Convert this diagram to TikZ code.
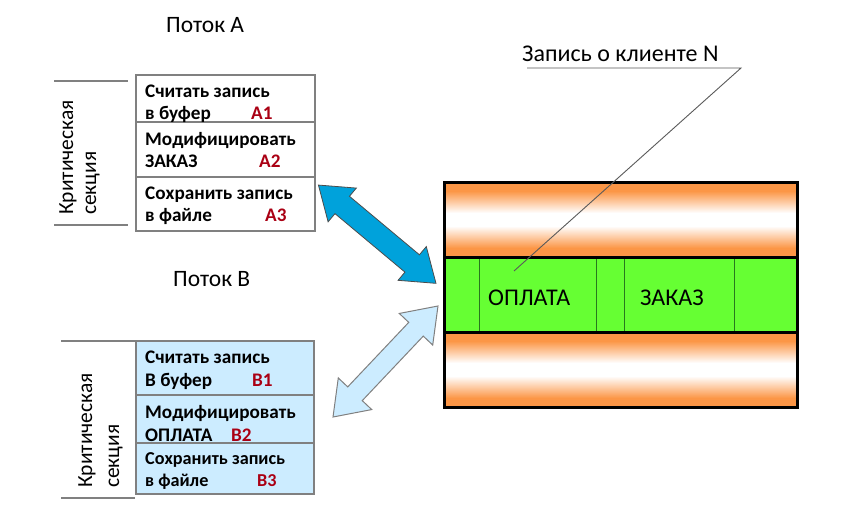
\documentclass[tikz,border=0pt]{standalone}
\usepackage{fontspec}
\setmainfont{Carlito}
\definecolor{darkblue}{RGB}{0,162,219}
\definecolor{lightblue}{RGB}{204,236,255}
\definecolor{boxgray}{RGB}{128,128,128}
\definecolor{labred}{RGB}{170,0,20}
\definecolor{bandgreen}{RGB}{102,255,51}
\definecolor{bandorange}{RGB}{252,150,70}
\definecolor{divgreen}{RGB}{40,120,30}
\definecolor{leadgray}{RGB}{90,90,90}
\tikzset{
  headtxt/.style={font=\fontsize{23.5}{27}\selectfont, inner sep=0pt, anchor=base west},
  celltxt/.style={font=\bfseries\fontsize{19.2}{21}\selectfont, inner sep=0pt, anchor=base west},
  cellred/.style={celltxt, text=labred},
  smallcell/.style={font=\bfseries\fontsize{18.2}{21}\selectfont},
  cellbox/.style={draw=boxgray, line width=1.2pt},
  bracketline/.style={draw=boxgray, line width=1.5pt},
  crittxt/.style={font=\fontsize{21.5}{25}\selectfont, inner sep=0pt, anchor=base west, rotate=90},
  darkarrow/.style={fill=darkblue, draw=black!70, line width=0.8pt, line join=miter},
  lightarrow/.style={fill=lightblue, draw=boxgray, line width=1pt, line join=miter},
  fadedown/.style={top color=bandorange, bottom color=white},
  fadeup/.style={top color=white, bottom color=bandorange},
}
\begin{document}
\begin{tikzpicture}[x=1pt,y=-1pt]
\useasboundingbox (0,0) rectangle (854,525);
\fill[white] (0,0) rectangle (854,525);

% ---- Thread A ----
\node[headtxt] (potokA) at (166,32) {Поток А};
\path[cellbox, fill=white] (136,75) rectangle (315,122);
\path[cellbox, fill=white] (136,122) rectangle (315,177);
\path[cellbox, fill=white] (136,177) rectangle (315,231);
\node[celltxt] (a1l1) at (145,97.7) {Считать запись};
\node[celltxt] (a1l2) at (145,119) {в буфер};
\node[cellred] (a1) at (251,119) {A1};
\node[celltxt] (a2l1) at (145,145.7) {Модифицировать};
\node[celltxt] (a2l2) at (145,167.7) {ЗАКАЗ};
\node[cellred] (a2) at (259,167.7) {A2};
\node[celltxt] (a3l1) at (145,199) {Сохранить запись};
\node[celltxt] (a3l2) at (145,221.7) {в файле};
\node[cellred] (a3) at (265,221.7) {A3};
\draw[bracketline] (54,81) -- (128,81);
\draw[bracketline] (54,225) -- (128,225);
\node[crittxt] (critA1) at (73,215) {Критическая};
\node[crittxt] (critA2) at (96,215) {секция};

% ---- Thread B ----
\node[headtxt] (potokB) at (173,286) {Поток В};
\path[cellbox, fill=lightblue] (136,341) rectangle (314,395);
\path[cellbox, fill=lightblue] (136,395) rectangle (314,443);
\path[cellbox, fill=lightblue] (136,443) rectangle (314,494);
\node[celltxt] (b1l1) at (145,363.3) {Считать запись};
\node[celltxt] (b1l2) at (145,386.7) {В буфер};
\node[cellred] (b1) at (252,386.7) {B1};
\node[celltxt] (b2l1) at (145,418.3) {Модифицировать};
\node[celltxt] (b2l2) at (145,441) {ОПЛАТА};
\node[cellred] (b2) at (231,441) {B2};
\node[celltxt, smallcell] (b3l1) at (145,464) {Сохранить запись};
\node[celltxt, smallcell] (b3l2) at (145,486) {в файле};
\node[cellred, smallcell] (b3) at (257,486) {B3};
\draw[bracketline] (61,341) -- (135,341);
\draw[bracketline] (61,498) -- (135,498);
\node[crittxt] (critB1) at (92,488) {Критическая};
\node[crittxt] (critB2) at (119,488) {секция};

% ---- Record block ----
\foreach \t in {182,332} {
  \fill[bandorange] (444,\t) rectangle (797,\t+9.3);
  \shade[fadedown] (444,\t+9) rectangle (797,\t+31);
  \shade[fadeup] (444,\t+44) rectangle (797,\t+66);
  \fill[bandorange] (444,\t+65.7) rectangle (797,\t+75);
}
\fill[bandgreen] (444,257) rectangle (797,332);
\foreach \xx in {479,596,624,734}
  \draw[divgreen, line width=0.9pt] (\xx,257) -- (\xx,332);
\draw[black, line width=3pt] (444,257) -- (797,257);
\draw[black, line width=3pt] (444,332) -- (797,332);
\draw[black, line width=3pt] (444,182) rectangle (797,407);
\node[headtxt, font=\fontsize{24}{27}\selectfont] (oplata) at (488,305) {ОПЛАТА};
\node[headtxt, font=\fontsize{24}{27}\selectfont] (zakaz) at (640,305) {ЗАКАЗ};

% ---- Leader ----
\node[headtxt, font=\fontsize{24}{27}\selectfont] (zapis) at (522,61) {Запись о клиенте N};
\coordinate (leadL) at (527,68);
\coordinate (leadR) at (741,68);
\coordinate (leadEnd) at (514,271);
\draw[leadgray, line width=0.9pt] (leadL) -- (leadR) -- (leadEnd);

% ---- Arrows ----
\begin{scope}[shift={(377.2,234.2)}, rotate=-39.9]
\draw[darkarrow] (-76.6,0) -- (-45.6,22) -- (-45.6,11.3) -- (45.6,11.3) -- (45.6,22) -- (76.6,0) -- (45.6,-22) -- (45.6,-11.3) -- (-45.6,-11.3) -- (-45.6,-22) -- cycle;
\end{scope}
\begin{scope}[shift={(385.5,361.5)}, rotate=46.6]
\draw[lightarrow] (-76.4,0) -- (-44.4,23) -- (-44.4,10) -- (44.4,10) -- (44.4,23) -- (76.4,0) -- (44.4,-23) -- (44.4,-10) -- (-44.4,-10) -- (-44.4,-23) -- cycle;
\end{scope}
\end{tikzpicture}
\end{document}
